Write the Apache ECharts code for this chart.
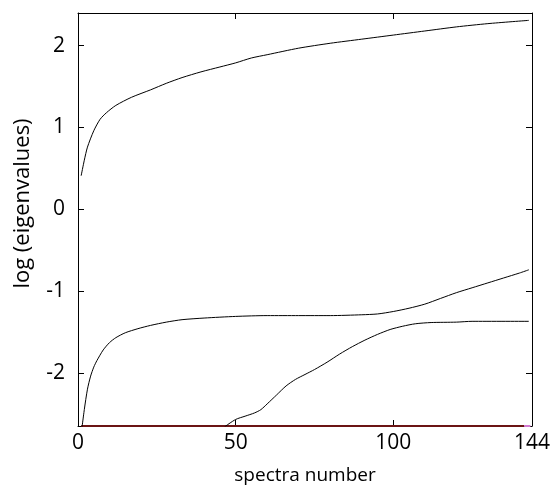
<!DOCTYPE html>
<html>
<head>
<meta charset="utf-8">
<script src="https://cdn.jsdelivr.net/npm/echarts@6/dist/echarts.min.js"></script>
<style>
  html, body { margin: 0; padding: 0; background: #fff; }
  #chart { width: 557px; height: 488px; }
</style>
</head>
<body>
<div id="chart"></div>
<script>
// Sorted log-eigenvalues against the number of spectra included
const xTicks = [0, 50, 100, 144];
const yTicks = [-2, -1, 0, 1, 2];

const firstN = [1, 2, 3, 5, 7, 9, 12, 17, 23, 28, 33, 39, 45, 50, 55, 60, 70, 80, 90, 100, 110, 120, 130, 143];
const firstLog = [0.41, 0.60, 0.76, 0.96, 1.10, 1.18, 1.27, 1.37, 1.46, 1.54, 1.61, 1.68, 1.74, 1.79, 1.85, 1.89, 1.97, 2.03, 2.08, 2.13, 2.18, 2.23, 2.27, 2.31];

const secondN = [1, 2, 3, 4, 5, 6, 8, 10, 12, 15, 19, 23, 28, 33, 40, 50, 60, 70, 80, 90, 95, 100, 105, 110, 115, 120, 125, 130, 135, 140, 143];
const secondLog = [-2.75, -2.45, -2.20, -2.04, -1.93, -1.85, -1.72, -1.63, -1.57, -1.51, -1.46, -1.42, -1.38, -1.35, -1.33, -1.31, -1.30, -1.30, -1.30, -1.29, -1.28, -1.25, -1.21, -1.16, -1.09, -1.02, -0.96, -0.90, -0.84, -0.78, -0.74];

const thirdN = [46.5, 50, 53, 56, 58, 60, 63, 66, 69, 72, 75, 79, 83, 87, 91, 95, 99, 103, 107, 112, 120, 125, 143];
const thirdLog = [-2.66, -2.57, -2.53, -2.49, -2.45, -2.38, -2.27, -2.16, -2.08, -2.02, -1.96, -1.87, -1.77, -1.68, -1.60, -1.53, -1.47, -1.43, -1.40, -1.385, -1.38, -1.37, -1.37];

// remaining eigenvalues sit at the floor of the log axis
const floorN = [1, 141.5];
const floorLog = [-2.65, -2.65];
const tailN = [141.5, 143.5];
const tailLog = [-2.65, -2.65];

const yMin = -2.65, yMax = 2.4;
const xMin = 0, xMax = 144;

const zip = (xs, ys) => xs.map((x, i) => [x, ys[i]]);

const font = '"Open Sans", "Liberation Sans", sans-serif';
const lineStyleAxis = { color: '#000', width: 1 };
const curve = { color: '#000', width: 1 };

const chart = echarts.init(document.getElementById('chart'));
chart.setOption({
  animation: false,
  backgroundColor: '#fff',
  grid: { left: 78, right: 25, top: 13, bottom: 62, containLabel: false, outerBoundsMode: 'none' },
  xAxis: [{
    type: 'value', min: xMin, max: xMax, position: 'bottom',
    name: 'spectra number', nameLocation: 'middle', nameGap: 40,
    nameTextStyle: { fontFamily: font, fontSize: 19, color: '#000' },
    axisLine: { show: true, onZero: false, lineStyle: lineStyleAxis },
    axisTick: { show: true, inside: true, length: 6, customValues: xTicks, lineStyle: lineStyleAxis },
    axisLabel: { customValues: xTicks, margin: 7, fontFamily: font, fontSize: 21, color: '#000' },
    splitLine: { show: false }
  }, {
    type: 'value', min: xMin, max: xMax, position: 'top',
    axisLine: { show: true, onZero: false, lineStyle: lineStyleAxis },
    axisTick: { show: true, inside: true, length: 6, customValues: xTicks, lineStyle: lineStyleAxis },
    axisLabel: { show: false },
    splitLine: { show: false }
  }],
  yAxis: [{
    type: 'value', min: yMin, max: yMax, position: 'left',
    name: 'log (eigenvalues)', nameLocation: 'middle', nameGap: 44,
    nameTextStyle: { fontFamily: font, fontSize: 22, color: '#000', padding: [0, 0, 0, 32] },
    axisLine: { show: true, onZero: false, lineStyle: lineStyleAxis },
    axisTick: { show: true, inside: true, length: 6, customValues: yTicks, lineStyle: lineStyleAxis },
    axisLabel: { customValues: yTicks, margin: 13, fontFamily: font, fontSize: 21, color: '#000' },
    splitLine: { show: false }
  }, {
    type: 'value', min: yMin, max: yMax, position: 'right',
    axisLine: { show: true, onZero: false, lineStyle: lineStyleAxis },
    axisTick: { show: true, inside: true, length: 6, customValues: yTicks, lineStyle: lineStyleAxis },
    axisLabel: { show: false },
    splitLine: { show: false }
  }],
  series: [
    { type: 'line', data: zip(floorN, floorLog), showSymbol: false, clip: false, lineStyle: { color: '#6b1414', width: 2 }, z: 3 },
    { type: 'line', data: zip(tailN, tailLog), showSymbol: false, clip: false, lineStyle: { color: '#d27ad2', width: 2 }, z: 4 },
    { type: 'line', data: zip(firstN, firstLog), showSymbol: false, smooth: 0.25, lineStyle: curve },
    { type: 'line', data: zip(secondN, secondLog), showSymbol: false, smooth: 0.25, lineStyle: curve },
    { type: 'line', data: zip(thirdN, thirdLog), showSymbol: false, smooth: 0.25, lineStyle: curve }
  ]
});
</script>
</body>
</html>
